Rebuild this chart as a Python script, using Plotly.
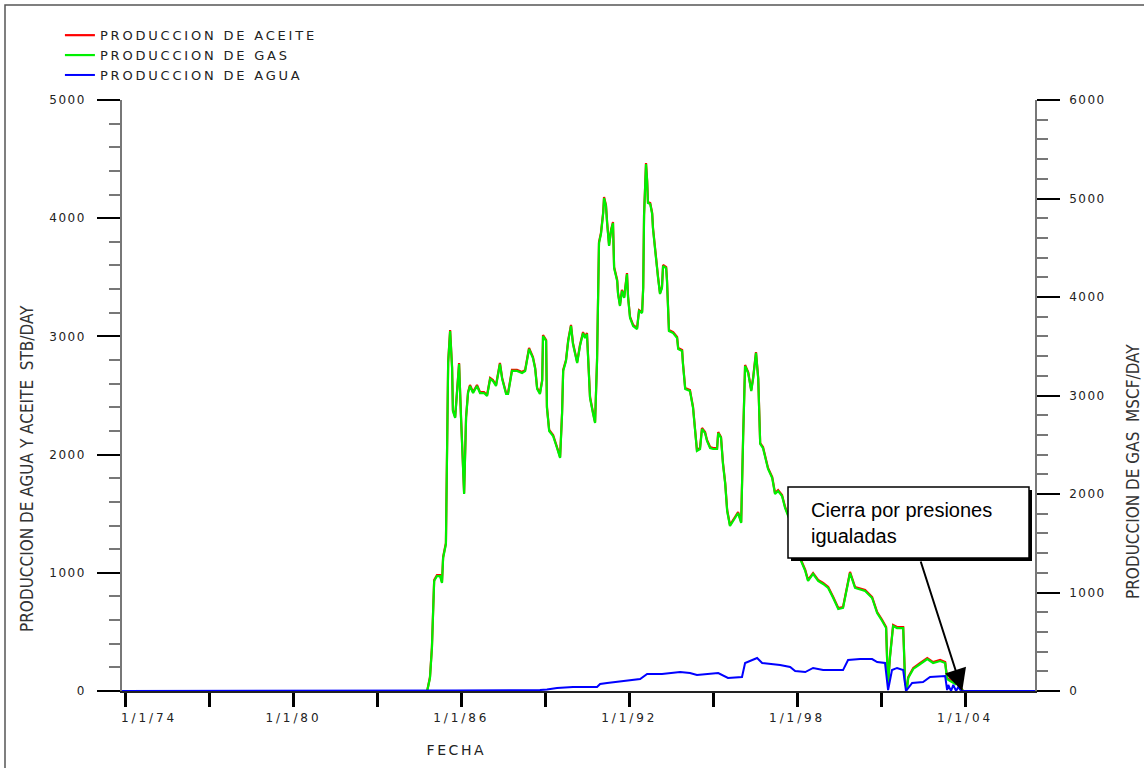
import plotly.graph_objects as go

# ---- data -------------------------------------------------------------
# production dates as decimal years
years = [
    1973.50, 1984.78, 1984.88, 1984.95, 1984.99, 1985.03, 1985.13, 1985.24, 1985.31, 1985.35,
    1985.45, 1985.49, 1985.53, 1985.60, 1985.67, 1985.70, 1985.78, 1985.85, 1985.92, 1985.99,
    1986.03, 1986.10, 1986.17, 1986.24, 1986.31, 1986.42, 1986.56, 1986.67, 1986.81, 1986.92,
    1987.03, 1987.13, 1987.24, 1987.38, 1987.46, 1987.60, 1987.67, 1987.81, 1987.99, 1988.17,
    1988.28, 1988.42, 1988.56, 1988.64, 1988.71, 1988.81, 1988.89, 1988.92, 1989.03, 1989.06,
    1989.14, 1989.28, 1989.42, 1989.53, 1989.60, 1989.64, 1989.74, 1989.82, 1989.92, 1989.99,
    1990.14, 1990.24, 1990.35, 1990.42, 1990.49, 1990.60, 1990.71, 1990.78, 1990.85, 1990.89,
    1990.92, 1990.99, 1991.07, 1991.10, 1991.17, 1991.21, 1991.28, 1991.35, 1991.42, 1991.46,
    1991.57, 1991.60, 1991.67, 1991.74, 1991.82, 1991.92, 1991.96, 1992.03, 1992.14, 1992.28,
    1992.35, 1992.46, 1992.50, 1992.53, 1992.60, 1992.64, 1992.67, 1992.75, 1992.82, 1992.85,
    1992.92, 1993.00, 1993.03, 1993.10, 1993.17, 1993.21, 1993.32, 1993.35, 1993.39, 1993.42,
    1993.57, 1993.71, 1993.75, 1993.89, 1993.92, 1994.00, 1994.17, 1994.28, 1994.42, 1994.53,
    1994.60, 1994.71, 1994.78, 1994.89, 1995.00, 1995.14, 1995.18, 1995.28, 1995.35, 1995.43,
    1995.50, 1995.60, 1995.78, 1995.89, 1996.00, 1996.03, 1996.07, 1996.14, 1996.25, 1996.36,
    1996.43, 1996.53, 1996.61, 1996.68, 1996.78, 1996.96, 1997.11, 1997.21, 1997.32, 1997.46,
    1997.57, 1997.75, 1997.93, 1998.11, 1998.29, 1998.39, 1998.57, 1998.75, 1998.93, 1999.11,
    1999.29, 1999.47, 1999.64, 1999.79, 1999.89, 2000.07, 2000.43, 2000.68, 2000.86, 2001.04,
    2001.18, 2001.22, 2001.25, 2001.32, 2001.43, 2001.57, 2001.79, 2001.86, 2001.93, 2001.97,
    2002.15, 2002.40, 2002.65, 2002.86, 2003.11, 2003.29, 2003.36, 2003.47, 2003.65, 2003.72,
    2003.83, 2003.93, 2007.00,
]

# oil rate, STB/DAY (left axis)
oil_stb = [
    0, 0, 118, 372, 660, 939, 981, 981, 922, 1134,
    1252, 2013, 2783, 3054, 2741, 2377, 2318, 2546, 2775, 2318,
    2064, 1675, 2318, 2529, 2589, 2529, 2589, 2529, 2529, 2504,
    2648, 2631, 2589, 2775, 2648, 2521, 2521, 2716, 2716, 2699,
    2716, 2902, 2826, 2733, 2563, 2521, 2631, 3012, 2970, 2403,
    2208, 2166, 2064, 1980, 2352, 2716, 2800, 2970, 3097, 2944,
    2783, 2927, 3037, 2995, 3029, 2487, 2352, 2276, 2800, 3282,
    3798, 3875, 4052, 4179, 4111, 3967, 3773, 3900, 3967, 3587,
    3477, 3367, 3266, 3393, 3333, 3536, 3333, 3164, 3097, 3071,
    3223, 3206, 3418, 4027, 4467, 4323, 4137, 4128, 4044, 3917,
    3731, 3579, 3503, 3367, 3418, 3604, 3587, 3477, 3282, 3054,
    3037, 2995, 2902, 2885, 2775, 2563, 2546, 2403, 2039, 2056,
    2225, 2191, 2123, 2064, 2056, 2056, 2191, 2149, 1929, 1760,
    1531, 1404, 1472, 1514, 1430, 1785, 2149, 2758, 2699, 2546,
    2656, 2868, 2648, 2098, 2064, 1887, 1810, 1675, 1700, 1658,
    1557, 1447, 1278, 1125, 1024, 939, 998, 939, 914, 880,
    795, 702, 711, 880, 1007, 880, 854, 795, 668, 601,
    541, 237, 68, 300, 558, 541, 541, 68, 34, 118,
    195, 237, 279, 245, 262, 245, 110, 93, 68, 118,
    34, 0, 0,
]

# gas rate, MSCF/DAY (right axis)
gas_mscf = [
    0, 0, 132, 436, 782, 1117, 1167, 1167, 1096, 1351,
    1492, 2406, 3330, 3655, 3279, 2842, 2772, 3045, 3320, 2772,
    2467, 2000, 2772, 3025, 3097, 3025, 3097, 3025, 3025, 2995,
    3168, 3147, 3097, 3320, 3168, 3015, 3015, 3249, 3249, 3229,
    3249, 3472, 3381, 3270, 3066, 3015, 3147, 3604, 3554, 2874,
    2640, 2589, 2467, 2366, 2812, 3249, 3350, 3554, 3706, 3523,
    3330, 3502, 3634, 3584, 3625, 2974, 2812, 2721, 3350, 3928,
    4548, 4640, 4852, 5005, 4923, 4750, 4518, 4670, 4750, 4294,
    4162, 4030, 3909, 4062, 3990, 4233, 3990, 3787, 3706, 3675,
    3858, 3837, 4092, 4822, 5350, 5178, 4954, 4944, 4843, 4690,
    4467, 4285, 4194, 4030, 4092, 4315, 4294, 4162, 3928, 3655,
    3634, 3584, 3472, 3452, 3320, 3066, 3045, 2874, 2437, 2457,
    2660, 2619, 2538, 2467, 2457, 2457, 2619, 2569, 2305, 2102,
    1827, 1675, 1756, 1807, 1706, 2132, 2569, 3300, 3229, 3045,
    3177, 3432, 3168, 2508, 2467, 2254, 2162, 2000, 2030, 1980,
    1858, 1726, 1524, 1340, 1219, 1117, 1188, 1117, 1087, 1046,
    944, 832, 843, 1046, 1198, 1046, 1015, 944, 792, 711,
    639, 274, 72, 350, 660, 639, 639, 72, 31, 132,
    224, 274, 325, 284, 304, 284, 122, 102, 72, 132,
    31, 0, 0,
]

# water rate, STB/DAY (left axis)
water_years = [
    1973.50, 1985.59, 1985.78, 1988.81, 1989.06, 1989.42, 1989.99, 1990.85, 1990.96, 1991.21,
    1991.92, 1992.39, 1992.64, 1993.17, 1993.82, 1994.17, 1994.42, 1995.18, 1995.53, 1996.03,
    1996.14, 1996.57, 1996.75, 1997.39, 1997.75, 1997.93, 1998.29, 1998.57, 1998.93, 1999.64,
    1999.82, 2000.25, 2000.68, 2000.86, 2001.14, 2001.25, 2001.39, 2001.57, 2001.79, 2001.89,
    2002.11, 2002.50, 2002.75, 2003.29, 2003.36, 2003.40, 2003.50, 2003.58, 2003.68, 2003.76,
    2003.86, 2007.00,
]
water_stb = [
    0, 0, 5, 8, 12, 25, 34, 34, 59, 68,
    85, 101, 144, 144, 160, 152, 135, 152, 110, 118,
    237, 279, 237, 220, 203, 169, 160, 195, 177, 177,
    262, 270, 270, 245, 237, 8, 177, 195, 177, 0,
    68, 76, 118, 127, 8, 51, 0, 51, 0, 34,
    0, 0,
]

x_tick_years = [1974, 1977, 1980, 1983, 1986, 1989, 1992, 1995, 1998, 2001, 2004]
x_tick_labels = ["\u00a0" * 7 + "1/1/74", "", "1/1/80", "", "1/1/86", "",
                 "1/1/92", "", "1/1/98", "", "1/1/04"]
left_ticks = [0, 1000, 2000, 3000, 4000, 5000]
right_ticks = [0, 1000, 2000, 3000, 4000, 5000, 6000]

# ---- figure -----------------------------------------------------------
WIDE = "DejaVu Sans, Verdana, sans-serif"
NARROW = "Liberation Sans Narrow, DejaVu Sans Condensed, Arial Narrow, sans-serif"
INK = "#222222"

fig = go.Figure()
fig.add_trace(go.Scatter(x=years, y=oil_stb, name="PRODUCCION DE ACEITE",
                         mode="lines", line=dict(color="#ff0000", width=2.2), yaxis="y"))
fig.add_trace(go.Scatter(x=years, y=gas_mscf, name="PRODUCCION DE GAS",
                         mode="lines", line=dict(color="#00f000", width=2.2), yaxis="y2"))
fig.add_trace(go.Scatter(x=water_years, y=water_stb, name="PRODUCCION DE AGUA",
                         mode="lines", line=dict(color="#0000ff", width=2), yaxis="y3"))

L, R, T, B = 122, 109, 100, 77
fig.update_layout(
    width=1144, height=768,
    margin=dict(l=L, r=R, t=T, b=B, autoexpand=False),
    paper_bgcolor="white", plot_bgcolor="white",
    font=dict(family=WIDE, color=INK),
    showlegend=True,
    legend=dict(x=-0.068, y=1.135, xanchor="left", yanchor="top",
                bgcolor="rgba(0,0,0,0)", borderwidth=0,
                font=dict(family=WIDE, size=13, color=INK),
                itemwidth=30, tracegroupgap=0),
    xaxis=dict(range=[1973.875, 2006.5], tickmode="array",
               tickvals=x_tick_years, ticktext=x_tick_labels,
               ticks="outside", ticklen=14, tickwidth=2.5, tickcolor="black",
               showline=True, linecolor="#222", linewidth=1.5,
               showgrid=False, zeroline=False, ticklabelstandoff=1,
               tickfont=dict(family=WIDE, size=12, color=INK)),
    yaxis=dict(range=[0, 5000], tickmode="array", tickvals=left_ticks,
               ticks="outside", ticklen=23, tickwidth=2, tickcolor="black",
               minor=dict(tick0=0, dtick=200, ticks="outside", ticklen=11,
                          tickwidth=1.5, tickcolor="#777", showgrid=False),
               showline=True, linecolor="#777", linewidth=1.5,
               showgrid=False, zeroline=False, ticklabelstandoff=9,
               tickfont=dict(family=WIDE, size=12, color=INK)),
    yaxis2=dict(range=[0, 6000], overlaying="y", side="right", tickmode="array",
                tickvals=right_ticks,
                ticks="outside", ticklen=23, tickwidth=2, tickcolor="black",
                minor=dict(tick0=0, dtick=200, ticks="outside", ticklen=11,
                           tickwidth=1.5, tickcolor="#777", showgrid=False),
                showline=True, linecolor="#777", linewidth=1.5,
                showgrid=False, zeroline=False, ticklabelstandoff=7,
                tickfont=dict(family=WIDE, size=12, color=INK)),
    yaxis3=dict(range=[0, 5000], overlaying="y", visible=False),
)

plot_w = 1144 - L - R
plot_h = 768 - T - B


def px_x(px):
    return (px - L) / plot_w


def px_y(py):
    return (768 - B - py) / plot_h


# outer frame along the top and left edges
fig.add_shape(type="rect", xref="paper", yref="paper",
              x0=px_x(5), x1=px_x(1160), y0=px_y(785), y1=px_y(5),
              line=dict(color="#555", width=1.5), fillcolor="rgba(0,0,0,0)", layer="above")

# axis titles
fig.add_annotation(text="PRODUCCION DE AGUA Y ACEITE  STB/DAY", textangle=-90,
                   xref="paper", yref="paper", x=px_x(27), y=px_y(469),
                   xanchor="center", yanchor="middle", showarrow=False,
                   font=dict(family=NARROW, size=17, color="#333"))
fig.add_annotation(text="PRODUCCION DE GAS  MSCF/DAY", textangle=-90,
                   xref="paper", yref="paper", x=px_x(1133), y=px_y(472),
                   xanchor="center", yanchor="middle", showarrow=False,
                   font=dict(family=NARROW, size=17, color="#333"))
fig.add_annotation(text="FECHA", xref="paper", yref="paper",
                   x=px_x(456), y=px_y(750), xanchor="center", yanchor="middle",
                   showarrow=False, font=dict(family=WIDE, size=14, color=INK))

# callout box with drop shadow
fig.add_shape(type="rect", xref="paper", yref="paper",
              x0=px_x(791), x1=px_x(1032), y0=px_y(561), y1=px_y(490),
              line=dict(color="black", width=0), fillcolor="black", layer="above")
fig.add_shape(type="rect", xref="paper", yref="paper",
              x0=px_x(788), x1=px_x(1029), y0=px_y(558), y1=px_y(487),
              line=dict(color="black", width=1.5), fillcolor="white", layer="above")
fig.add_annotation(text="Cierra por presiones<br>igualadas", align="left",
                   xref="paper", yref="paper", x=px_x(809), y=px_y(523),
                   xanchor="left", yanchor="middle", showarrow=False,
                   font=dict(family="Liberation Sans, Arial, sans-serif", size=20, color="black"))
fig.add_annotation(text="", x=2003.9, y=0, xref="x", yref="y",
                   ax=-42, ay=-131, axref="pixel", ayref="pixel",
                   showarrow=True, arrowhead=2, arrowsize=2.2, arrowwidth=2,
                   arrowcolor="black", standoff=0, startstandoff=0)

# wider tracking for the stroke-style labels; the legend box is sized
# before the tracking is applied, so its clip region is dropped
post_js = """
var gd = document.getElementById('{plot_id}');
function track() {
  var rules = [['.legendtext', '2.8px'], ['.xtick text', '2.9px'],
               ['.ytick text', '1.5px'], ['.y2tick text', '1.5px']];
  rules.forEach(function (r) {
    gd.querySelectorAll(r[0]).forEach(function (t) { t.style.letterSpacing = r[1]; });
  });
  gd.querySelectorAll('.annotation-text').forEach(function (t) {
    if (t.textContent === 'FECHA') { t.style.letterSpacing = '2.6px'; }
  });
  gd.querySelectorAll('.legend [clip-path]').forEach(function (e) {
    e.removeAttribute('clip-path');
  });
}
track();
if (gd.on) { gd.on('plotly_afterplot', track); }
"""

fig.write_html("out.html", post_script=post_js)
